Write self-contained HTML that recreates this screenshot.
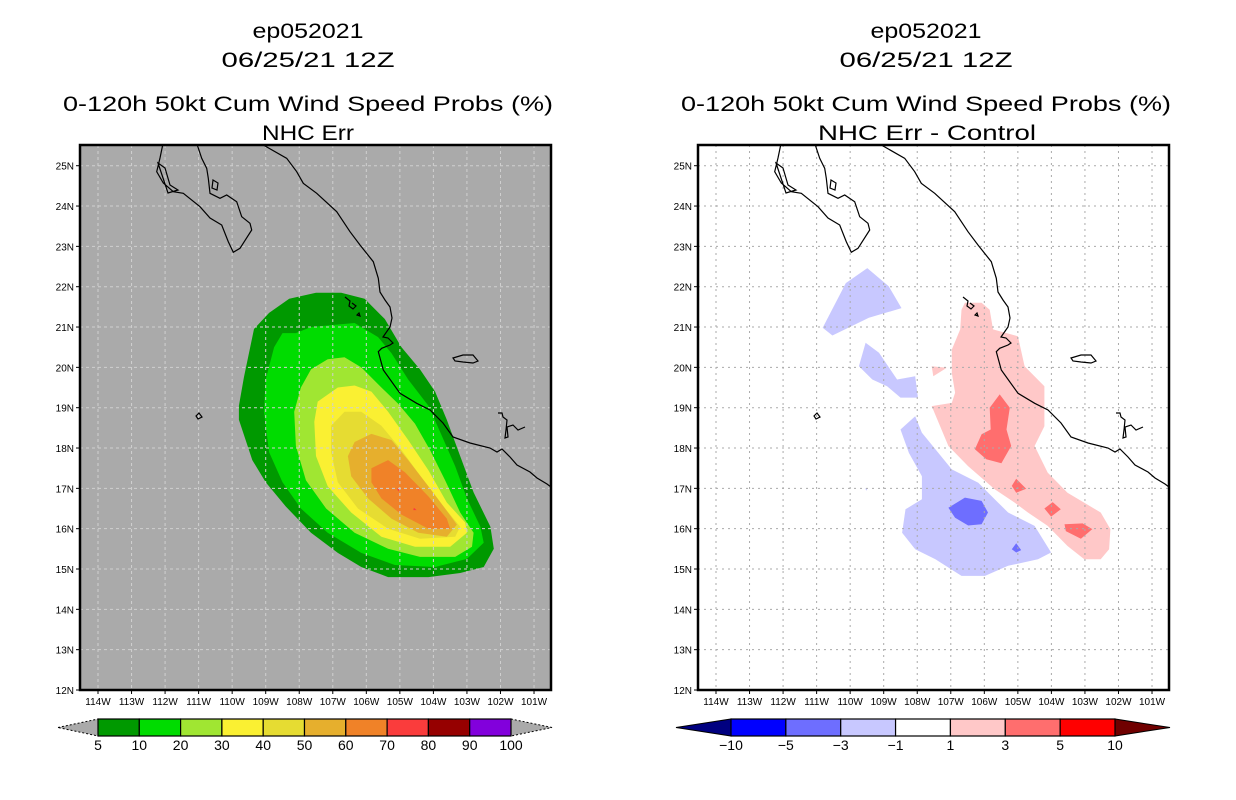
<!DOCTYPE html>
<html><head><meta charset="utf-8"><style>
html,body{margin:0;padding:0;background:#fff;}
svg{display:block;font-family:"Liberation Sans",sans-serif;}
</style></head><body>
<svg id="chart" width="1236" height="800" viewBox="0 0 1236 800" xmlns="http://www.w3.org/2000/svg">
<defs>
<clipPath id="clipL"><rect x="80" y="145" width="471" height="545"/></clipPath>
<clipPath id="clipR"><rect x="698" y="145" width="471" height="545"/></clipPath>
</defs>
<g id="titles" font-size="21" fill="#000" text-anchor="middle">
<text x="308" y="38" textLength="111" lengthAdjust="spacingAndGlyphs">ep052021</text>
<text x="308" y="67" textLength="173" lengthAdjust="spacingAndGlyphs">06/25/21 12Z</text>
<text x="308" y="111" textLength="490" lengthAdjust="spacingAndGlyphs">0-120h 50kt Cum Wind Speed Probs (%)</text>
<text x="308" y="140" textLength="92" lengthAdjust="spacingAndGlyphs">NHC Err</text>
<text x="926" y="38" textLength="111" lengthAdjust="spacingAndGlyphs">ep052021</text>
<text x="926" y="67" textLength="173" lengthAdjust="spacingAndGlyphs">06/25/21 12Z</text>
<text x="926" y="111" textLength="490" lengthAdjust="spacingAndGlyphs">0-120h 50kt Cum Wind Speed Probs (%)</text>
<text x="927" y="140" textLength="218" lengthAdjust="spacingAndGlyphs">NHC Err - Control</text>
</g>
</svg>
<script>
// ---- data ----
const lonTicks = [114,113,112,111,110,109,108,107,106,105,104,103,102,101];
const latTicks = [12,13,14,15,16,17,18,19,20,21,22,23,24,25];
const probLevels = [5,10,20,30,40,50,60,70,80,90,100];
const probColors = ['#009900','#00dc00','#a0e632','#faf032','#e6dc32','#e6af2d','#f08228','#fa3c3c','#960000','#8200dc'];
const diffLevels = [-10,-5,-3,-1,1,3,5,10];
const diffColors = ['#0000ff','#6e6eff','#c8c8ff','#ffffff','#ffc8c8','#ff6e6e','#ff0000'];
// probability contours [lonW, latN]
const prob5 = [[107.5,21.85],[106.75,21.85],[106.05,21.7],[105.45,21.2],[104.95,20.5],[104.4,19.95],[103.95,19.4],[103.6,18.7],[103.2,17.8],[102.8,16.9],[102.3,16.05],[102.2,15.5],[102.5,15.05],[103.2,14.9],[104.15,14.8],[105.35,14.8],[106.15,15.05],[106.85,15.4],[107.65,15.9],[108.4,16.55],[109.0,17.15],[109.4,17.7],[109.8,18.7],[109.8,19.05],[109.65,19.75],[109.35,20.95],[108.9,21.35],[108.3,21.7]];
const prob10 = [[108.1,20.85],[107.65,21.0],[106.35,21.1],[105.65,20.75],[105.25,20.35],[104.75,19.7],[104.15,19.05],[103.8,18.4],[103.35,17.55],[103.0,16.75],[102.6,16.05],[102.5,15.65],[103.0,15.25],[103.95,15.05],[105.15,15.1],[106.15,15.4],[107.15,15.9],[107.95,16.5],[108.5,17.15],[108.9,17.9],[109.05,18.9],[109.0,19.7],[108.75,20.5],[108.5,20.85]];
const prob20 = [[107.15,20.2],[106.65,20.25],[106.15,20.0],[105.55,19.5],[105.05,19.1],[104.55,18.6],[104.1,17.95],[103.65,17.2],[103.2,16.4],[102.8,15.9],[102.85,15.55],[103.35,15.3],[104.4,15.3],[105.35,15.5],[106.35,15.9],[107.2,16.5],[107.8,17.2],[108.1,18.05],[108.15,18.9],[107.95,19.5],[107.65,19.95]];
const prob30 = [[106.85,19.5],[106.35,19.55],[105.85,19.4],[105.35,18.9],[104.75,18.2],[104.15,17.45],[103.6,16.65],[103.05,16.15],[103.0,15.9],[103.5,15.55],[104.55,15.55],[105.55,15.8],[106.45,16.4],[107.15,17.05],[107.5,17.8],[107.55,18.65],[107.45,19.15]];
const prob40 = [[106.65,18.9],[106.15,18.9],[105.55,18.55],[104.95,17.95],[104.25,17.15],[103.65,16.5],[103.2,16.05],[103.35,15.8],[104.4,15.75],[105.35,16.0],[106.25,16.5],[106.85,17.15],[107.05,17.9],[107.05,18.55]];
const prob50 = [[106.35,18.15],[105.85,18.35],[105.25,18.2],[104.75,17.7],[104.15,17.05],[103.65,16.5],[103.3,16.1],[103.6,15.8],[104.45,15.9],[105.25,16.25],[105.95,16.75],[106.45,17.3],[106.55,17.8]];
const prob60 = [[105.85,17.5],[105.35,17.7],[104.85,17.4],[104.15,16.8],[103.6,16.25],[103.5,16.0],[104.15,16.0],[104.95,16.35],[105.55,16.75],[105.85,17.15]];
const prob70a = [[105.08,17.0],[105.0,17.0],[105.05,16.92]];
const prob70b = [[104.58,16.52],[104.5,16.46],[104.6,16.46]];
// difference contours
const diffPos1 = [[106.58,21.6],[106.08,21.6],[105.84,21.43],[105.74,20.94],[105.0,20.77],[104.8,20.03],[104.21,19.53],[104.21,18.54],[104.5,18.05],[104.11,17.39],[103.52,16.89],[102.53,16.4],[102.24,15.99],[102.28,15.49],[102.53,15.24],[103.02,15.24],[103.52,15.57],[104.11,16.07],[104.7,16.4],[105.1,16.65],[105.69,16.98],[106.48,17.55],[107.07,18.05],[107.57,19.04],[106.97,19.12],[106.87,19.37],[106.97,19.86],[106.97,20.44],[106.72,20.94],[106.68,21.43]];
const diffPos1b = [[107.57,20.03],[107.12,19.99],[107.52,19.78]];
const diffPos3a = [[105.54,19.33],[105.24,19.0],[105.34,18.46],[105.2,18.05],[105.49,17.62],[105.94,17.72],[106.28,17.97],[106.08,18.34],[105.81,18.46],[105.84,19.0]];
const diffPos3b = [[105.05,17.24],[104.75,16.99],[105.05,16.89],[105.18,17.06]];
const diffPos3c = [[103.96,16.66],[103.72,16.48],[104.01,16.3],[104.21,16.5]];
const diffPos3d = [[103.61,16.11],[103.07,16.13],[102.78,15.99],[103.12,15.75],[103.57,15.94]];
const diffNeg1a = [[110.82,20.98],[110.13,22.09],[109.49,22.46],[108.85,22.01],[108.47,21.47],[109.44,21.23],[110.53,20.79]];
const diffNeg1b = [[109.54,20.61],[109.14,20.36],[108.6,19.7],[108.06,19.78],[107.98,19.25],[108.5,19.25],[108.9,19.53],[109.34,19.7],[109.74,20.03]];
const diffNeg1c = [[108.06,18.79],[107.86,18.38],[107.46,17.97],[106.97,17.47],[106.18,17.14],[105.69,16.73],[105.29,16.4],[104.5,16.07],[104.01,15.41],[104.4,15.24],[105.29,15.08],[105.98,14.83],[106.68,14.83],[107.46,15.24],[108.06,15.49],[108.45,15.9],[108.35,16.48],[107.86,16.73],[107.86,17.3],[108.25,17.88],[108.5,18.46]];
const diffNeg1d = [[109.55,17.0],[109.48,17.0],[109.52,16.94]];
const diffNeg3a = [[107.07,16.52],[106.58,16.77],[106.08,16.69],[105.89,16.4],[106.08,16.11],[106.48,16.08],[106.87,16.27]];
const diffNeg3b = [[105.18,15.49],[105.05,15.64],[104.9,15.47],[105.05,15.41]];

// ---- axes ----
const NS='http://www.w3.org/2000/svg';
const svg=document.getElementById('chart');
const X=(lon,off)=>98+(114-lon)*33.54+off;
const Y=(lat)=>690-(lat-12)*40.33;
function mk(tag,attrs,parent){const e=document.createElementNS(NS,tag);for(const k in attrs)e.setAttribute(k,attrs[k]);(parent||svg).appendChild(e);return e;}
function poly(pts,off,fill,parent,name){
  const p=mk('polygon',{points:pts.map(q=>X(q[0],off).toFixed(1)+','+Y(q[1]).toFixed(1)).join(' '),fill:fill},parent);
  
  
}
const coast="M162.7,145 L160,158 L156.7,171.7 L163.3,183 L173.3,191.7 L183.3,193.3 L200,206.7 L210,218 L221.7,225 L228.3,241.7 L233.3,252.3 L240,248.3 L251.7,230 L250,223.3 L241.7,216.7 L236.7,201.7 L226.7,195 L220,198.3 L210,193.3 L208.3,178.3 L206.7,168.3 L201.7,158.3 L197.3,145 "+
"M263.3,145 L286.7,158.3 L296.7,171.7 L303.3,183.3 L316.7,193.3 L336.7,211.7 L350,231.7 L360,245 L373.3,261.7 L378.3,278.3 L380,292 L385,300 L390,307 L392,318 L390,327 L383,337 L388,338 L393,343 L390,345 L381.7,348.3 L378.3,351.7 L383.3,370 L400,393.3 L416.7,403.3 L430,410 L443,423 L453,437 L470,443 L490,448 L497,452 L502,449 L510,457 L517,465 L530,472 L537,478 L547,484 L551,487 "+
"M453,358 L463,355 L473,355 L478,361 L473,363 L463,362 L455,361 Z "+
"M498,413 L502,413 L503,417 L507,420 L506,430 L505,438 L508,437 L507,427 L513,425 L518,430 L525,427 "+
"M345,297 L350,301 L349,306 L353,309 L356,306 L352,303 "+"M357,315 L359,313 L360,316 Z "+"M196,416 L199,413 L202,417 L198,419 Z "+"M213,180 L218,183 L217,190 L212,188 Z "+"M158,163 L165,168 L170,185 L178,190 L168,193 Z";

function panel(off,bg,gridColor,dash,clip,prefix){
  const g=mk('g',{'clip-path':'url(#'+clip+')'});
  
  
  const bgr=mk('rect',{x:80+off,y:145,width:471,height:545,fill:bg},g);
  
  
  return g;
}
function gridAndFrame(off,g,gridColor,dash,prefix){
  lonTicks.forEach(l=>{const ln=mk('line',{x1:X(l,off),x2:X(l,off),y1:145,y2:690,stroke:gridColor,'stroke-width':1,'stroke-dasharray':dash},g);
    
    });
  latTicks.forEach(l=>{const ln=mk('line',{x1:80+off,x2:551+off,y1:Y(l),y2:Y(l),stroke:gridColor,'stroke-width':1,'stroke-dasharray':dash},g);
    
    });
  const c=mk('path',{d:coast,fill:'none',stroke:'#000','stroke-width':1.2,transform:'translate('+off+',0)'},g);
  
  
  const fr=mk('rect',{x:80+off,y:145,width:471,height:545,fill:'none',stroke:'#000','stroke-width':2.5});
  
  
  const ax=mk('g',{'font-size':10,fill:'#000'});
  
  
  latTicks.forEach(l=>{
    const t=mk('line',{x1:76+off,x2:80+off,y1:Y(l),y2:Y(l),stroke:'#000'},ax);
    
    
    const tx=mk('text',{x:74+off,y:Y(l)+4,'text-anchor':'end'},ax);tx.textContent=l+'N';
    
    
  });
  lonTicks.forEach(l=>{
    const t=mk('line',{x1:X(l,off),x2:X(l,off),y1:690,y2:694,stroke:'#000'},ax);
    
    
    const tx=mk('text',{x:X(l,off),y:705,'text-anchor':'middle'},ax);tx.textContent=l+'W';
    
    
  });
}
// left panel
const gL=panel(0,'#aaaaaa','#d0d0d0','3,3','clipL','left');
[prob5,prob10,prob20,prob30,prob40,prob50,prob60].forEach((c,i)=>poly(c,0,probColors[i],gL,'prob-contour-'+probLevels[i]));
poly(prob70a,0,probColors[7],gL,'prob-contour-70');
poly(prob70b,0,probColors[7],gL,'prob-contour-70');
gridAndFrame(0,gL,'#d0d0d0','3,3','left');
// right panel
const off=618;
const gR=panel(off,'#ffffff','#aaaaaa','2,4','clipR','right');
[[diffPos1,4],[diffPos1b,4],[diffPos3a,5],[diffPos3b,5],[diffPos3c,5],[diffPos3d,5],[diffNeg1a,2],[diffNeg1b,2],[diffNeg1c,2],[diffNeg1d,2],[diffNeg3a,1],[diffNeg3b,1]].forEach(a=>poly(a[0],off,diffColors[a[1]],gR,'diff-contour-'+diffLevels[a[1]]));
gridAndFrame(off,gR,'#aaaaaa','2,4','right');

// colorbars
function colorbar(x0,x1,tipL,tipR,colors,labels,leftTip,rightTip,tipDash,prefix){
  const g=mk('g',{});
  
  
  const y0=719,y1=736,ym=727.5,w=(x1-x0)/colors.length;
  const tl=mk('polygon',{points:`${tipL},${ym} ${x0},${y0} ${x0},${y1}`,fill:leftTip,stroke:'#000','stroke-width':1,'stroke-dasharray':tipDash},g);
  
  
  const tr=mk('polygon',{points:`${tipR},${ym} ${x1},${y0} ${x1},${y1}`,fill:rightTip,stroke:'#000','stroke-width':1,'stroke-dasharray':tipDash},g);
  
  
  colors.forEach((c,i)=>{const r=mk('rect',{x:x0+i*w,y:y0,width:w,height:y1-y0,fill:c,stroke:'#000','stroke-width':1.2},g);
    
    });
  labels.forEach((l,i)=>{const t=mk('text',{x:x0+i*w,y:750,'text-anchor':'middle','font-size':14},g);
    t.textContent=(l<0?'\u2212'+(-l):String(l));
    
    });
}
colorbar(98,511,58,552,probColors,probLevels,'#aaaaaa','#aaaaaa','2,2','left');
colorbar(731,1115,676,1170,diffColors,diffLevels,'#000080','#700000','none','right');
</script>
</body></html>
